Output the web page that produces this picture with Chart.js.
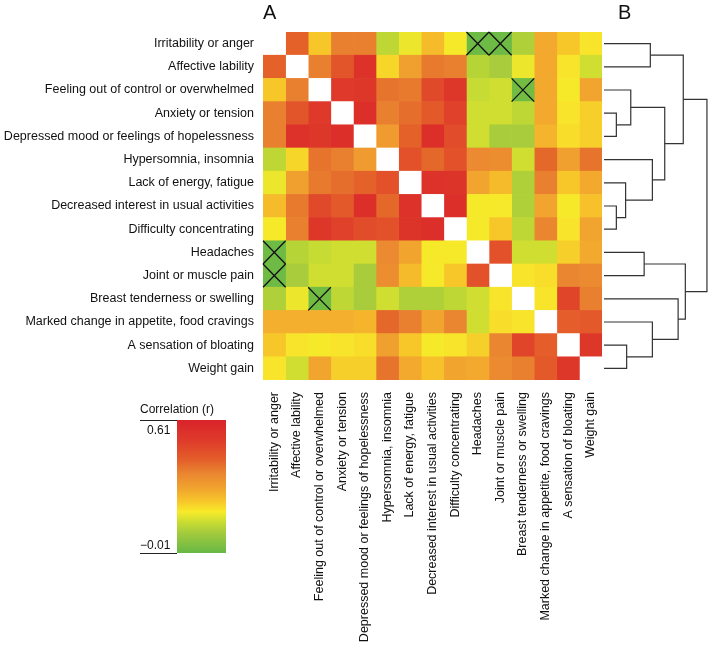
<!DOCTYPE html>
<html>
<head>
<meta charset="utf-8">
<script src="https://cdn.jsdelivr.net/npm/chart.js@4.4.1/dist/chart.umd.min.js"></script>
<style>
  body { margin: 0; background: #fff; font-family: "Liberation Sans", Arial, sans-serif; }
  #wrap { position: relative; width: 709px; height: 653px; }
  canvas { position: absolute; }
  .tag { position: absolute; font-size: 20px; color: #111; }
  .lbl { position: absolute; font-size: 12px; color: #111; white-space: nowrap; }
  .rule { position: absolute; height: 0; border-top: 1px solid #222; }
</style>
</head>
<body>
<div id="wrap">
  <canvas id="heat" width="709" height="653" style="left:0;top:0"></canvas>
  <canvas id="tree" width="105" height="348" style="left:604px;top:32px"></canvas>
  <div class="tag" style="left:263px;top:1px">A</div>
  <div class="tag" style="left:618px;top:1px">B</div>
  <div class="lbl" style="left:140px;top:402px">Correlation (r)</div>
  <div class="rule" style="left:140px;top:420px;width:37px"></div>
  <div class="rule" style="left:140px;top:553px;width:37px"></div>
  <div class="lbl" style="left:147px;top:423px">0.61</div>
  <div class="lbl" style="left:140px;top:538px">&minus;0.01</div>
  <div id="bar" style="position:absolute;left:177px;top:420px;width:49px;height:133px"></div>
</div>
<script>
// symptom order (rows and columns are the same)
const symptoms = [
  'Irritability or anger',
  'Affective lability',
  'Feeling out of control or overwhelmed',
  'Anxiety or tension',
  'Depressed mood or feelings of hopelessness',
  'Hypersomnia, insomnia',
  'Lack of energy, fatigue',
  'Decreased interest in usual activities',
  'Difficulty concentrating',
  'Headaches',
  'Joint or muscle pain',
  'Breast tenderness or swelling',
  'Marked change in appetite, food cravings',
  'A sensation of bloating',
  'Weight gain'
];

// correlation matrix (r), diagonal left empty
const corr = [
  [null, .42, .23, .37, .37, .12, .17, .25, .18, .00, .00, .10, .28, .23, .19],
  [.42, null, .37, .45, .55, .21, .30, .38, .37, .11, .09, .17, .28, .19, .14],
  [.23, .37, null, .52, .53, .39, .38, .48, .53, .13, .14, .01, .28, .18, .29],
  [.37, .45, .52, null, .56, .37, .40, .44, .50, .14, .14, .12, .28, .19, .22],
  [.37, .55, .53, .56, null, .31, .42, .56, .47, .14, .09, .09, .26, .20, .22],
  [.12, .21, .39, .37, .31, null, .46, .41, .46, .35, .34, .14, .41, .30, .39],
  [.17, .30, .38, .40, .42, .46, null, .55, .54, .29, .25, .10, .37, .23, .28],
  [.25, .38, .48, .44, .56, .41, .55, null, .56, .18, .18, .10, .29, .18, .24],
  [.18, .37, .53, .50, .47, .46, .54, .56, null, .18, .23, .12, .36, .19, .29],
  [.00, .11, .13, .14, .14, .35, .29, .18, .18, null, .46, .14, .14, .22, .28],
  [.00, .09, .14, .14, .09, .34, .25, .18, .23, .46, null, .19, .20, .36, .35],
  [.10, .17, .01, .12, .09, .14, .10, .10, .12, .14, .19, null, .19, .49, .37],
  [.27, .27, .27, .27, .26, .41, .37, .29, .36, .14, .20, .19, null, .43, .44],
  [.23, .19, .18, .19, .20, .30, .23, .18, .19, .22, .36, .49, .43, null, .53],
  [.19, .14, .29, .22, .22, .39, .28, .24, .29, .28, .35, .37, .44, .53, null]
];

// non-significant pairs (crossed cells)
const crossed = [[0, 9], [0, 10], [9, 0], [10, 0], [2, 11], [11, 2]];

// colour scale limits
const rMin = -0.01, rMax = 0.61;

// dendrogram merges: [left node, right node, height]; leaves are 0..14, new nodes from 15
const merges = [
  [3, 4, 0.12],
  [2, 15, 0.26],
  [0, 1, 0.45],
  [7, 8, 0.12],
  [6, 18, 0.21],
  [5, 19, 0.47],
  [16, 20, 0.59],
  [17, 21, 0.77],
  [9, 10, 0.39],
  [13, 14, 0.22],
  [12, 24, 0.47],
  [11, 25, 0.72],
  [23, 26, 0.79],
  [22, 27, 1.0]
];

const font = { family: '"Liberation Sans", Arial, sans-serif', size: 12.5 };

const stops = [
  [0.00, [102, 184, 70]],
  [0.16, [168, 204, 60]],
  [0.23, [200, 220, 50]],
  [0.31, [248, 234, 42]],
  [0.39, [247, 198, 42]],
  [0.48, [241, 165, 46]],
  [0.60, [234, 133, 48]],
  [0.70, [228, 95, 42]],
  [0.85, [222, 58, 42]],
  [1.00, [217, 35, 43]]
];

function colorAt(t) {
  t = Math.max(0, Math.min(1, t));
  for (let k = 1; k < stops.length; k++) {
    if (t <= stops[k][0]) {
      const [t0, c0] = stops[k - 1], [t1, c1] = stops[k];
      const f = (t - t0) / (t1 - t0);
      const c = c0.map((v, i) => Math.round(v + (c1[i] - v) * f));
      return `rgb(${c[0]},${c[1]},${c[2]})`;
    }
  }
  return 'rgb(217,35,43)';
}
const colorFor = r => r === null ? '#ffffff' : colorAt((r - rMin) / (rMax - rMin));

// colour bar
document.getElementById('bar').style.background =
  'linear-gradient(to top,' + stops.map(s => colorAt(s[0]) + ' ' + (s[0] * 100) + '%').join(',') + ')';

// heatmap as stacked horizontal bars, one dataset per column
const datasets = symptoms.map((c, j) => ({
  label: c,
  data: symptoms.map(() => 1),
  backgroundColor: symptoms.map((r, i) => colorFor(corr[i][j])),
  borderWidth: 0,
  barPercentage: 1,
  categoryPercentage: 1
}));

const crossPlugin = {
  id: 'cross',
  afterDatasetsDraw(chart) {
    const { ctx, scales: { x, y } } = chart;
    const half = (y.getPixelForValue(1) - y.getPixelForValue(0)) / 2;
    ctx.save();
    ctx.strokeStyle = '#111';
    ctx.lineWidth = 1.3;
    crossed.forEach(([i, j]) => {
      const x0 = x.getPixelForValue(j), x1 = x.getPixelForValue(j + 1);
      const yc = y.getPixelForValue(i);
      ctx.beginPath();
      ctx.moveTo(x0, yc - half); ctx.lineTo(x1, yc + half);
      ctx.moveTo(x1, yc - half); ctx.lineTo(x0, yc + half);
      ctx.stroke();
    });
    ctx.restore();
  }
};

new Chart(document.getElementById('heat'), {
  type: 'bar',
  data: { labels: symptoms, datasets },
  plugins: [crossPlugin],
  options: {
    responsive: false,
    animation: false,
    indexAxis: 'y',
    layout: { padding: { top: 32, right: 107, left: 0, bottom: 0 } },
    plugins: { legend: { display: false }, tooltip: { enabled: false } },
    scales: {
      x: {
        type: 'linear', stacked: true, min: 0, max: 15,
        grid: { display: false }, border: { display: false },
        afterBuildTicks: s => { s.ticks = symptoms.map((c, i) => ({ value: i + 0.5 })); },
        afterFit: s => { s.height = 273; },
        ticks: {
          autoSkip: false, minRotation: 90, maxRotation: 90, padding: 4,
          color: '#111', font,
          callback: (v, i) => symptoms[i]
        }
      },
      y: {
        stacked: true,
        grid: { display: false }, border: { display: false },
        afterFit: s => { s.width = 263; },
        ticks: { autoSkip: false, padding: 1, color: '#111', font }
      }
    }
  }
});

// dendrogram
const nodes = symptoms.map((s, i) => ({ y: i, h: 0 }));
const treeSets = merges.map(([a, b, h]) => {
  const L = nodes[a], R = nodes[b];
  nodes.push({ y: (L.y + R.y) / 2, h });
  return {
    data: [{ x: L.h, y: L.y }, { x: h, y: L.y }, { x: h, y: R.y }, { x: R.h, y: R.y }],
    showLine: true, borderColor: '#333', borderWidth: 1.2, pointRadius: 0, clip: false
  };
});

new Chart(document.getElementById('tree'), {
  type: 'scatter',
  data: { datasets: treeSets },
  options: {
    responsive: false,
    animation: false,
    layout: { padding: 0 },
    plugins: { legend: { display: false }, tooltip: { enabled: false } },
    scales: {
      x: { display: false, min: 0, max: 1.02 },
      y: { display: false, min: -0.5, max: 14.5, reverse: true }
    }
  }
});
</script>
</body>
</html>
